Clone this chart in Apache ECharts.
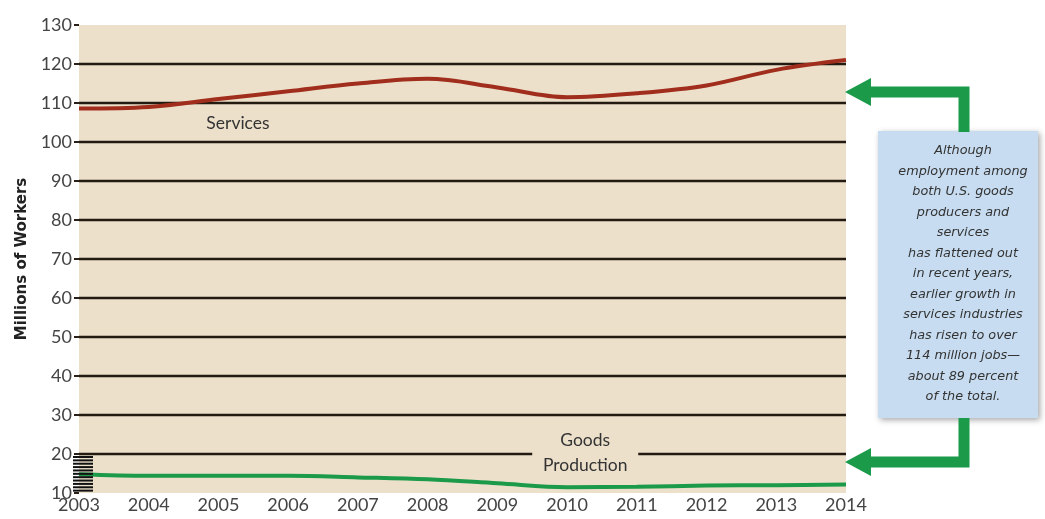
<!DOCTYPE html>
<html>
<head>
<meta charset="utf-8">
<script src="https://cdn.jsdelivr.net/npm/echarts@6/dist/echarts.min.js"></script>
<style>
  html, body { margin: 0; padding: 0; background: #fff; }
  #chart { width: 1045px; height: 519px; }
</style>
</head>
<body>
<div id="chart"></div>
<script>
  // data
  let years = ['2003', '2004', '2005', '2006', '2007', '2008', '2009', '2010', '2011', '2012', '2013', '2014'];
  let services = [108.6, 109, 111, 113, 115, 116.2, 114, 111.5, 112.5, 114.5, 118.5, 121];
  let goods = [14.8, 14.4, 14.4, 14.4, 14, 13.5, 12.5, 11.5, 11.6, 11.9, 12, 12.2];
  let noteLines = [
    'Although', 'employment among', 'both U.S. goods', 'producers and', 'services',
    'has flattened out', 'in recent years,', 'earlier growth in', 'services industries',
    'has risen to over', '114 million jobs\u2014', 'about 89 percent', 'of the total.'
  ];

  const FONT = 'Lato, "Open Sans", sans-serif';
  const GREEN = '#1b9a4a';
  const BG = '#ece0cb';

  let chart = echarts.init(document.getElementById('chart'));
  let options = {
    animation: false,
    grid: { left: 79, right: 199, top: 25, bottom: 26, show: true, backgroundColor: BG, borderWidth: 0 },
    xAxis: {
      type: 'category',
      boundaryGap: false,
      data: years,
      axisLine: { show: false },
      axisTick: { show: false },
      axisLabel: { color: '#444', fontSize: 18, fontFamily: FONT, margin: 3 }
    },
    yAxis: {
      type: 'value',
      min: 10, max: 130, interval: 10,
      name: 'Millions of Workers',
      nameLocation: 'middle',
      nameGap: 49,
      nameTextStyle: { fontSize: 15, fontWeight: 'bold', color: '#222', fontFamily: '"DejaVu Sans", sans-serif' },
      axisLine: { show: false },
      axisTick: { show: true, length: 5, lineStyle: { color: '#2a2018', width: 2 } },
      axisLabel: { color: '#444', fontSize: 18, fontFamily: FONT, margin: 7 },
      splitLine: { show: true, showMinLine: false, showMaxLine: false, lineStyle: { color: '#231a12', width: 2.4 } }
    },
    series: [
      {
        name: 'Services', type: 'line', data: services, smooth: 0.35, symbol: 'none',
        lineStyle: { color: '#a12d1c', width: 4 }, z: 5
      },
      {
        name: 'Goods Production', type: 'line', data: goods, smooth: 0.35, symbol: 'none',
        lineStyle: { color: GREEN, width: 4 }, z: 5
      }
    ]
  };
  chart.setOption(options);

  // pixel position for a fractional category position
  function px(x, y) {
    let a = chart.convertToPixel({ gridIndex: 0 }, [Math.floor(x), y]);
    let b = chart.convertToPixel({ gridIndex: 0 }, [Math.floor(x) + 1, y]);
    return [a[0] + (b[0] - a[0]) * (x - Math.floor(x)), a[1]];
  }

  let g = [];
  // axis break stripes between 10 and 20
  let p20 = px(0, 20), p10 = px(0, 10);
  let n = 11;
  for (let i = 0; i < n; i++) {
    let y = p20[1] + 2 + i * (p10[1] - p20[1] - 2) / n;
    g.push({ type: 'rect', shape: { x: p20[0] - 6, y: y, width: 20, height: 2 }, style: { fill: '#111' }, z: 20 });
  }
  // series labels
  let ps = px(2.28, 104.8);
  g.push({ type: 'text', x: ps[0], y: ps[1], style: { text: 'Services', fill: '#333', fontSize: 17.5, fontFamily: FONT, align: 'center', verticalAlign: 'middle' }, z: 20 });
  let pg = px(7.26, 20);
  g.push({ type: 'rect', shape: { x: pg[0] - 53, y: pg[1] - 4, width: 106, height: 8 }, style: { fill: BG }, z: 15 });
  g.push({ type: 'text', x: pg[0], y: pg[1] - 1, style: { text: 'Goods\nProduction', fill: '#333', fontSize: 17.5, lineHeight: 25, fontFamily: FONT, align: 'center', verticalAlign: 'middle' }, z: 20 });

  // annotation box
  g.push({ type: 'rect', shape: { x: 878, y: 131, width: 160, height: 287 },
    style: { fill: '#c7dcf0', shadowBlur: 6, shadowColor: 'rgba(0,0,0,0.35)', shadowOffsetX: 2, shadowOffsetY: 2 }, z: 10 });
  g.push({ type: 'text', x: 963, y: 274, style: { text: noteLines.join('\n'), fill: '#333', fontSize: 12.8, fontStyle: 'italic', lineHeight: 20.5, fontFamily: '"DejaVu Sans", sans-serif', align: 'center', verticalAlign: 'middle' }, z: 11 });

  // arrows
  function arrow(yLine, yBox) {
    g.push({ type: 'polyline', shape: { points: [[964, yBox], [964, yLine], [866, yLine]] }, style: { stroke: GREEN, lineWidth: 11, fill: null }, z: 12 });
    g.push({ type: 'polygon', shape: { points: [[845, yLine], [871, yLine - 14], [871, yLine + 14]] }, style: { fill: GREEN }, z: 12 });
  }
  arrow(92, 132);
  arrow(462, 418);

  chart.setOption({ graphic: g });
</script>
</body>
</html>
